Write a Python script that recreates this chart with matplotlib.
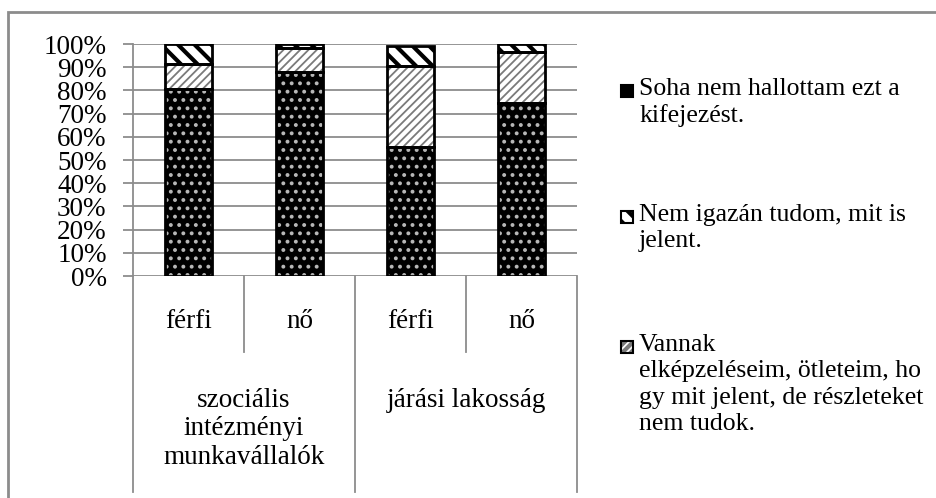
import numpy as np
import matplotlib
matplotlib.use('Agg')
import matplotlib.pyplot as plt
from matplotlib.patches import Rectangle

plt.rcParams['font.family'] = ['Liberation Serif', 'DejaVu Serif']

# data (percent)
groups = ['szociális\nintézményi\nmunkavállalók', 'járási lakosság']
sexes = ['férfi', 'nő', 'férfi', 'nő']
soha = [80.4, 87.8, 55.5, 74.7]
vannak = [10.8, 10.3, 35.1, 22.0]
nem_igazan = [8.8, 1.9, 8.5, 3.3]
labels = ['Soha nem hallottam ezt a\nkifejezést.',
          'Nem igazán tudom, mit is\njelent.',
          'Vannak\nelképzeléseim, ötleteim, ho\ngy mit jelent, de részleteket\nnem tudok.']

W, H = 937, 498
GRAY = '#8c8c8c'
FS = 19.5
LFS = 18.5


def fx(px):
    return px / W


def fy(py):
    return 1 - py / H


fig = plt.figure(figsize=(W / 100, H / 100), dpi=100)
ax = fig.add_axes([fx(133), fy(276), (577 - 133) / W, 232 / H])

x = np.arange(len(sexes))
width = 0.42

# (values, hatch, hatch colour, face colour, hatch linewidth)
series = [
    (soha, '..', '#b8b8b8', 'black', 1.6),
    (vannak, '////', '#7a7a7a', 'white', 1.3),
    (nem_igazan, '\\\\', 'black', 'white', 3.0),
]

bottom = np.zeros(len(x))
for vals, hatch, hcol, face, hlw in series:
    plt.rcParams['hatch.linewidth'] = hlw
    bars = ax.bar(x, vals, width, bottom=bottom, color=face, edgecolor=hcol,
                  linewidth=0, hatch=hatch, zorder=2)
    for b in bars:
        if hasattr(b, 'set_hatch_linewidth'):
            b.set_hatch_linewidth(hlw)
    ax.bar(x, vals, width, bottom=bottom, fill=False, edgecolor='black',
           linewidth=2, zorder=3)
    bottom = bottom + np.array(vals)

ax.set_xlim(-0.5, 3.5)
ax.set_ylim(0, 100)
ax.set_yticks(np.arange(0, 101, 10))
ax.set_yticklabels([f'{v}%' for v in range(0, 101, 10)], fontsize=FS)
ax.set_xticks([])
ax.yaxis.grid(True, color=GRAY, linewidth=1.3)
ax.set_axisbelow(True)
ax.tick_params(axis='y', length=7, width=1.3, color=GRAY, pad=12)
for s in ['top', 'right', 'bottom']:
    ax.spines[s].set_visible(False)
ax.spines['left'].set_color(GRAY)
ax.spines['left'].set_linewidth(1.3)

# multi-level category axis
tr = ax.get_xaxis_transform()
row1 = (276 - 352) / 232
row2 = (276 - 492) / 232
for xb, yb in [(-0.5, row2), (0.5, row1), (1.5, row2), (2.5, row1), (3.5, row2)]:
    ax.plot([xb, xb], [0, yb], transform=tr, color=GRAY, lw=1.3, clip_on=False)
for i, s in enumerate(sexes):
    ax.text(i, (276 - 322) / 232, s, transform=tr, ha='center', va='center',
            fontsize=FS)
for i, g in enumerate(groups):
    ax.text(0.5 + 2 * i, (276 - 388) / 232, g, transform=tr, ha='center',
            va='top', fontsize=FS, linespacing=1.18, multialignment='center')

# legend drawn by hand
legend_y = [92, 218, 348]
legend_style = [('black', None, 'black'), ('white', '\\\\', 'black'),
                ('white', '////', '#7a7a7a')]
for lab, ly, (face, hatch, hcol) in zip(labels, legend_y, legend_style):
    fig.add_artist(Rectangle((fx(621), fy(ly + 5)), 12 / W, 12 / H,
                             transform=fig.transFigure, facecolor=face,
                             edgecolor=hcol, hatch=hatch, linewidth=0))
    fig.add_artist(Rectangle((fx(621), fy(ly + 5)), 12 / W, 12 / H,
                             transform=fig.transFigure, fill=False,
                             edgecolor='black', linewidth=1.5))
    fig.text(fx(639), fy(ly - 14), lab, ha='left', va='top', fontsize=LFS,
             linespacing=1.25)

# outer chart frame
fig.add_artist(Rectangle((fx(8), -0.5), 2, fy(12) + 0.5,
                         transform=fig.transFigure, fill=False,
                         edgecolor=GRAY, linewidth=2))

fig.savefig('out.png', dpi=100)
